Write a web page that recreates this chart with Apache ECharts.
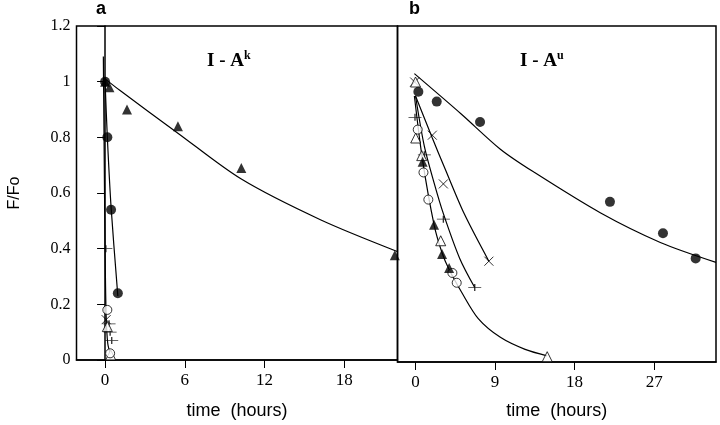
<!DOCTYPE html>
<html>
<head>
<meta charset="utf-8">
<script src="https://cdn.jsdelivr.net/npm/echarts@6/dist/echarts.min.js"></script>
<style>html,body{margin:0;padding:0;background:#fff;}#c{width:720px;height:425px;}</style>
</head>
<body>
<div id="c"></div>
<script>
// ---- tick labels ----
const yTicks = [0, 0.2, 0.4, 0.6, 0.8, 1, 1.2];
const xTicksA = [0, 6, 12, 18];
const xTicksB = [0, 9, 18, 27];

// ---- panel a (I-A^k) ----
const aFilledTri = [[0, 1.0], [0.33, 0.98], [1.65, 0.90], [5.48, 0.84], [10.25, 0.69], [21.8, 0.376]];
const aFilledCircle = [[0, 1.0], [0.17, 0.80], [0.45, 0.54], [0.96, 0.24]];
const aOpenCircle = [[0.17, 0.18], [0.38, 0.024]];
const aOpenTri = [[0.17, 0.12], [0.42, 0.018]];
const aCross = [[0.08, 0.145]];
const aPlus = [[0.06, 0.40], [0.3, 0.13], [0.38, 0.10], [0.5, 0.07]];
const aTriCurve = [[0, 1.01], [1.13, 0.968], [5.48, 0.815], [10.25, 0.65], [16.2, 0.504], [21.98, 0.39]];
const aCircleCurve = [[0, 1.0], [0.17, 0.80], [0.45, 0.55], [0.96, 0.23]];
const aFastCurve = [[-0.13, 1.09], [-0.06, 0.70], [0.0, 0.40], [0.08, 0.16], [0.2, 0.06], [0.4, 0.02]];

// ---- panel b (I-A^u) ----
const bFilledCircle = [[0.32, 0.965], [2.4, 0.93], [7.3, 0.857], [22.0, 0.572], [28.0, 0.46], [31.7, 0.37]];
const bOpenTri = [[0, 1.0], [0.02, 0.80], [0.7, 0.737], [2.85, 0.433], [14.9, 0.019]];
const bFilledTri = [[0.8, 0.715], [2.1, 0.49], [3.0, 0.386], [3.8, 0.336]];
const bOpenCircle = [[0.25, 0.83], [0.9, 0.677], [1.45, 0.58], [4.17, 0.318], [4.66, 0.283]];
const bCross = [[-0.1, 1.0], [1.9, 0.81], [3.15, 0.636], [8.3, 0.36]];
const bPlus = [[-0.06, 0.874], [1.0, 0.74], [3.15, 0.51], [6.7, 0.266]];
const bCircleCurve = [[-0.13, 1.03], [5.2, 0.885], [9.6, 0.76], [13.3, 0.68], [20.9, 0.533], [27.7, 0.427], [34, 0.356]];
const bCrossCurve = [[0, 0.95], [1.9, 0.80], [3.34, 0.69], [5.5, 0.53], [8.3, 0.36]];
const bPlusCurve = [[0, 0.95], [1.0, 0.77], [2.1, 0.64], [3.15, 0.53], [5.0, 0.37], [6.7, 0.266]];
const bFastCurve = [[-0.13, 0.95], [0.8, 0.72], [2.1, 0.49], [3.0, 0.39], [3.8, 0.33], [5.2, 0.25], [7.1, 0.155], [9.6, 0.088], [12.4, 0.045], [14.9, 0.022]];

const K = '#000';
const crossPath = 'path://M0,0L10,10M10,0L0,10';
const plusPath = 'path://M0,5L14,5M7,2L7,8';

function curve(data, g) {
  return { type: 'line', xAxisIndex: g, yAxisIndex: g, data: data, smooth: 0.3,
    showSymbol: false, symbol: 'none', lineStyle: { color: K, width: 1.2 }, z: 2, silent: true };
}
function pts(data, g, kind) {
  const s = { type: 'scatter', xAxisIndex: g, yAxisIndex: g, data: data, z: 5, silent: true };
  if (kind === 'fc') { s.symbol = 'circle'; s.symbolSize = 10; s.itemStyle = { color: K }; }
  if (kind === 'ft') { s.symbol = 'triangle'; s.symbolSize = 10; s.itemStyle = { color: K }; }
  if (kind === 'oc') { s.symbol = 'circle'; s.symbolSize = 9; s.itemStyle = { color: '#fff', borderColor: K, borderWidth: 1 }; }
  if (kind === 'ot') { s.symbol = 'triangle'; s.symbolSize = 10; s.itemStyle = { color: '#fff', borderColor: K, borderWidth: 1 }; }
  if (kind === 'x') { s.symbol = crossPath; s.symbolSize = 9; s.itemStyle = { color: 'none', borderColor: K, borderWidth: 1 }; }
  if (kind === 'p') { s.symbol = plusPath; s.symbolSize = [13, 7]; s.itemStyle = { color: 'none', borderColor: K, borderWidth: 1 }; }
  return s;
}

const tickFont = { fontFamily: 'Liberation Serif', fontSize: 17, color: K };
const nameFont = { fontFamily: 'Liberation Sans', fontSize: 18, color: K };
const richTitle = {
  m: { fontFamily: 'Liberation Serif', fontWeight: 'bold', fontSize: 19, color: K, lineHeight: 22 },
  s: { fontFamily: 'Liberation Serif', fontWeight: 'bold', fontSize: 12, color: K, verticalAlign: 'top', lineHeight: 12 }
};

const chart = echarts.init(document.getElementById('c'), null, { renderer: 'canvas' });
chart.setOption({
  animation: false,
  backgroundColor: '#fff',
  title: [
    { text: 'a', left: 96, top: 0, padding: 0, textStyle: { fontFamily: 'Liberation Sans', fontWeight: 'bold', fontSize: 18, color: K } },
    { text: 'b', left: 409, top: 0, padding: 0, textStyle: { fontFamily: 'Liberation Sans', fontWeight: 'bold', fontSize: 18, color: K } },
    { text: '{m|I - A}{s|k}', left: 207, top: 50, padding: 0, textStyle: { rich: richTitle } },
    { text: '{m|I - A}{s|u}', left: 520, top: 50, padding: 0, textStyle: { rich: richTitle } }
  ],
  grid: [
    { left: 76.5, top: 26, width: 321, height: 340, show: true, borderColor: K, borderWidth: 1.5, backgroundColor: 'transparent' },
    { left: 397.5, top: 26, width: 318.5, height: 340, show: true, borderColor: K, borderWidth: 1.5, backgroundColor: 'transparent' }
  ],
  xAxis: [
    { gridIndex: 0, type: 'value', min: -2.15, max: 22,
      axisLine: { show: true, onZero: false, lineStyle: { color: K, width: 1.5 } },
      axisTick: { show: true, customValues: xTicksA, length: 8, lineStyle: { color: K, width: 1 } },
      axisLabel: { customValues: xTicksA, margin: 12, ...tickFont },
      splitLine: { show: false },
      name: 'time  (hours)', nameLocation: 'middle', nameGap: 42, nameTextStyle: nameFont },
    { gridIndex: 1, type: 'value', min: -2.04, max: 34,
      axisLine: { show: true, onZero: false, lineStyle: { color: K, width: 1.5 } },
      axisTick: { show: true, customValues: xTicksB, length: 8, lineStyle: { color: K, width: 1 } },
      axisLabel: { customValues: xTicksB, margin: 12, ...tickFont },
      splitLine: { show: false },
      name: 'time  (hours)', nameLocation: 'middle', nameGap: 40, nameTextStyle: nameFont }
  ],
  yAxis: [
    { gridIndex: 0, type: 'value', min: 0, max: 1.2, interval: 0.2,
      axisLine: { show: true, lineStyle: { color: K, width: 1.5 } },
      axisTick: { show: true, length: 8, lineStyle: { color: K, width: 1 } },
      axisLabel: { margin: 6, ...tickFont, fontSize: 16 },
      splitLine: { show: false },
      name: 'F/Fo', nameLocation: 'middle', nameGap: 54, nameTextStyle: { fontFamily: 'Liberation Sans', fontSize: 16, color: K } },
    { gridIndex: 1, type: 'value', min: 0, max: 1.2, interval: 0.2,
      axisLine: { show: false }, axisTick: { show: false }, axisLabel: { show: false }, splitLine: { show: false } }
  ],
  series: [
    curve(aTriCurve, 0), curve(aCircleCurve, 0), curve(aFastCurve, 0),
    pts(aPlus, 0, 'p'), pts(aCross, 0, 'x'), pts(aOpenTri, 0, 'ot'), pts(aOpenCircle, 0, 'oc'),
    pts(aFilledCircle, 0, 'fc'), pts(aFilledTri, 0, 'ft'),
    curve(bCircleCurve, 1), curve(bCrossCurve, 1), curve(bPlusCurve, 1), curve(bFastCurve, 1),
    pts(bPlus, 1, 'p'), pts(bCross, 1, 'x'), pts(bOpenTri, 1, 'ot'), pts(bOpenCircle, 1, 'oc'),
    pts(bFilledTri, 1, 'ft'), pts(bFilledCircle, 1, 'fc')
  ]
});
</script>
</body>
</html>
